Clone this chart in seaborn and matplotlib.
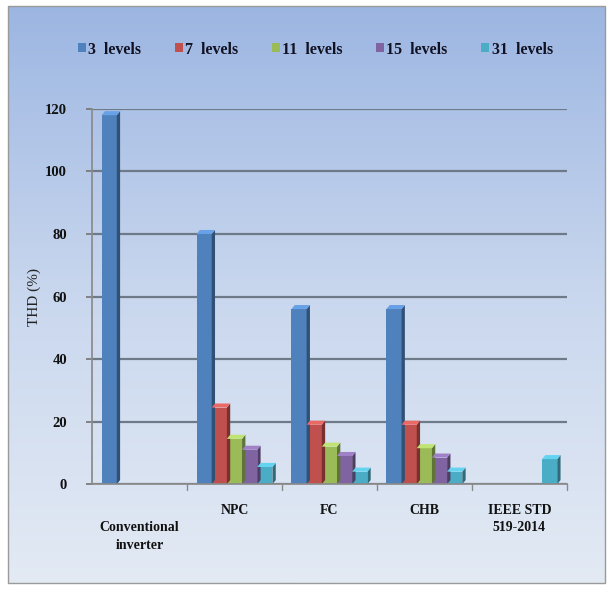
import numpy as np
import pandas as pd
import matplotlib
matplotlib.use("Agg")
import matplotlib.pyplot as plt
import matplotlib.colors as mcolors
from matplotlib.patches import Polygon, Rectangle
import seaborn as sns

categories = ["\nConventional\ninverter", "NPC", "FC", "CHB", "IEEE STD\n519-2014"]
levels = ["3  levels", "7  levels", "11  levels", "15  levels", "31  levels"]
thd_3 = [118, 80, 56, 56, np.nan]
thd_7 = [np.nan, 24.5, 19, 19, np.nan]
thd_11 = [np.nan, 14.5, 12, 11.5, np.nan]
thd_15 = [np.nan, 11, 9, 8.5, np.nan]
thd_31 = [np.nan, 5.5, 4, 4, 8]
colors = ["#4F81BD", "#C0504D", "#9BBB59", "#8064A2", "#4BACC6"]
yticks = [0, 20, 40, 60, 80, 100, 120]

rows = []
for lev, vals in zip(levels, [thd_3, thd_7, thd_11, thd_15, thd_31]):
    for c, v in zip(categories, vals):
        rows.append({"cat": c, "level": lev, "thd": v})
df = pd.DataFrame(rows)

sns.set_theme(style="white")
plt.rcParams["font.family"] = ["Liberation Serif", "DejaVu Serif"]

fig = plt.figure(figsize=(6.14, 5.89), dpi=100)
fig.patch.set_facecolor("white")

# gradient background panel
bg = fig.add_axes([0.013, 0.01, 0.972, 0.98])
grad = np.linspace(0, 1, 256).reshape(-1, 1)
cmap = mcolors.LinearSegmentedColormap.from_list("bg", ["#9CB6E2", "#C9D7EE", "#E3EAF4"])
bg.imshow(grad, aspect="auto", cmap=cmap, extent=[0, 1, 0, 1], origin="upper")
bg.set_axis_off()
fig.add_artist(Rectangle((0.013, 0.01), 0.972, 0.98, transform=fig.transFigure,
                         fill=False, edgecolor="#9A9A9A", lw=1.0))

ax = fig.add_axes([0.150, 0.178, 0.773, 0.637])
ax.set_facecolor("none")
sns.barplot(data=df, x="cat", y="thd", hue="level", hue_order=levels,
            palette=colors, width=0.8, saturation=1, ax=ax,
            edgecolor="none", legend=True)

# pseudo 3D faces derived from bars
dx, dy = 0.035, 1.3
for p in list(ax.patches):
    h = p.get_height()
    if not np.isfinite(h) or h <= 0:
        continue
    x0 = p.get_x(); w = p.get_width()
    base = mcolors.to_rgb(p.get_facecolor())
    dark = tuple(c * 0.62 for c in base)
    light = tuple(min(1, c * 1.15 + 0.05) for c in base)
    side = Polygon([[x0 + w, 0], [x0 + w + dx, dy], [x0 + w + dx, h + dy], [x0 + w, h]],
                   closed=True, facecolor=dark, edgecolor="none", zorder=p.get_zorder())
    top = Polygon([[x0, h], [x0 + dx, h + dy], [x0 + w + dx, h + dy], [x0 + w, h]],
                  closed=True, facecolor=light, edgecolor="none", zorder=p.get_zorder())
    ax.add_patch(side); ax.add_patch(top)

ax.set_ylim(0, 120)
ax.set_xlim(-0.5, 4.5)
ax.set_yticks(yticks)
ax.set_yticklabels([str(t) for t in yticks], fontsize=10.5, fontweight="bold", color="#111111")
ax.yaxis.grid(True, color="#6F7A88", lw=1.6)
ax.set_axisbelow(True)
ax.set_xticks(range(len(categories)))
ax.set_xticklabels(categories, fontsize=10, fontweight="bold", color="#111111",
                   linespacing=1.45)
ax.tick_params(axis="x", length=0, pad=14)
ax.tick_params(axis="y", length=4, color="#777777", left=True, pad=14)
for s in ["top", "right"]:
    ax.spines[s].set_visible(False)
ax.spines["left"].set_color("#8A8A8A")
ax.spines["bottom"].set_color("#8A8A8A")
for xb in [0.5, 1.5, 2.5, 3.5, 4.5]:
    ax.plot([xb, xb], [0, -2], color="#8A8A8A", lw=1, clip_on=False)
ax.set_xlabel("")
ax.set_ylabel("THD (%)", fontsize=11, color="#222222", labelpad=3)

leg = ax.legend(loc="upper center", bbox_to_anchor=(0.47, 1.218), ncol=5, frameon=False,
                handlelength=0.5, handleheight=0.5, handletextpad=0.15,
                columnspacing=2.1, prop={"weight": "bold", "size": 11.5})
for t in leg.get_texts():
    t.set_color("#111122")

fig.savefig("out.png", dpi=100)
